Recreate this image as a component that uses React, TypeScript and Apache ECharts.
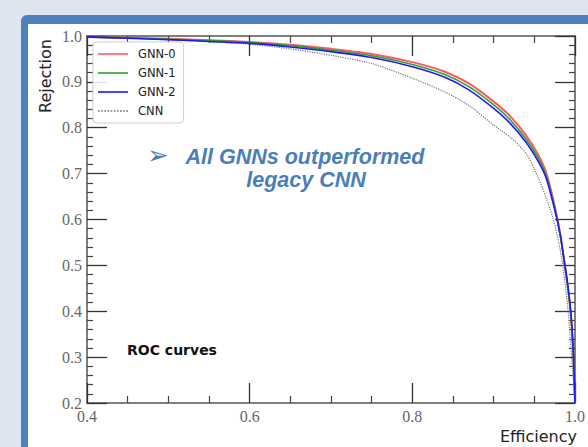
import React, { useEffect, useRef } from "react";
import * as echarts from "echarts";

const X_TICKS = [0.4, 0.6, 0.8, 1.0];
const Y_TICKS = [0.2, 0.3, 0.4, 0.5, 0.6, 0.7, 0.8, 0.9, 1.0];

const GNN_EFF = [0.4, 0.45, 0.5, 0.55, 0.6, 0.65, 0.7, 0.75, 0.8, 0.84, 0.87, 0.9, 0.92, 0.94, 0.955, 0.965, 0.975, 0.982, 0.987, 0.991, 0.995, 0.998, 1.0];
const GNN0_REJ = [0.998, 0.996, 0.994, 0.991, 0.987, 0.981, 0.972, 0.961, 0.943, 0.922, 0.896, 0.857, 0.826, 0.783, 0.74, 0.7, 0.63, 0.568, 0.505, 0.455, 0.39, 0.3, 0.2];
const GNN1_REJ = [0.998, 0.996, 0.993, 0.99, 0.986, 0.979, 0.969, 0.957, 0.938, 0.916, 0.889, 0.85, 0.818, 0.775, 0.733, 0.693, 0.625, 0.565, 0.505, 0.455, 0.39, 0.3, 0.2];
const GNN2_REJ = [0.998, 0.995, 0.992, 0.988, 0.984, 0.976, 0.966, 0.953, 0.933, 0.91, 0.882, 0.842, 0.81, 0.768, 0.726, 0.688, 0.622, 0.565, 0.508, 0.46, 0.395, 0.31, 0.2];

const CNN_EFF = [0.4, 0.45, 0.5, 0.55, 0.6, 0.65, 0.7, 0.75, 0.8, 0.84, 0.87, 0.9, 0.92, 0.94, 0.955, 0.965, 0.9725, 0.98, 0.985, 0.991, 0.995, 0.998, 1.0];
const CNN_REJ = [0.998, 0.996, 0.992, 0.988, 0.982, 0.972, 0.958, 0.94, 0.908, 0.878, 0.848, 0.806, 0.78, 0.744, 0.69, 0.645, 0.606, 0.55, 0.5, 0.41, 0.32, 0.25, 0.2];

const SERIES_NAMES = ["GNN-0", "GNN-1", "GNN-2", "CNN"];
const ANNOT_LINES = ["All GNNs outperformed", "legacy CNN"];

const zip = (xs: number[], ys: number[]) => xs.map((x, i) => [x, ys[i]]);

const SOLID_ICON = "path://M0,0h30v1.6h-30z";
const DOTTED_ICON =
  "path://" +
  Array.from({ length: 10 }, (_, i) => `M${i * 3},0h1.6v1.3h-1.6z`).join("");

export default function App() {
  const ref = useRef<HTMLDivElement>(null);
  useEffect(() => {
    if (!ref.current) return;
    const chart = echarts.init(ref.current, undefined, { renderer: "svg" });
    const serif = "'Liberation Serif', 'DejaVu Serif', serif";
    const sans = "'DejaVu Sans', sans-serif";
    const slideFont = "'Liberation Sans', Arial, sans-serif";
    const axisCommon = {
      type: "value" as const,
      splitLine: { show: false },
      minorSplitLine: { show: false },
      axisLine: { show: true, lineStyle: { color: "#555", width: 1.5 } },
      axisTick: { show: true, inside: true, length: 20, lineStyle: { color: "#333", width: 1.3 } },
    };
    const xBase = {
      ...axisCommon,
      min: X_TICKS[0],
      max: X_TICKS[X_TICKS.length - 1],
      interval: 0.2,
      minorTick: { show: true, splitNumber: 4, length: 7, lineStyle: { color: "#444", width: 1.2 } },
    };
    const yBase = {
      ...axisCommon,
      min: Y_TICKS[0],
      max: Y_TICKS[Y_TICKS.length - 1],
      interval: 0.1,
      minorTick: { show: true, splitNumber: 5, length: 6, lineStyle: { color: "#444", width: 1.2 } },
    };
    const labelStyle = {
      fontFamily: serif,
      fontSize: 16,
      color: "#666",
      showMinLabel: true,
      showMaxLabel: true,
      formatter: (v: number) => v.toFixed(1),
    };
    const lineSeries = (name: string, xs: number[], ys: number[], color: string, width: number, type: string, z: number) => ({
      name,
      type: "line",
      data: zip(xs, ys),
      showSymbol: false,
      symbol: "none",
      smooth: 0.25,
      z,
      lineStyle: { color, width, type },
      itemStyle: { color },
    });
    chart.setOption({
      animation: false,
      graphic: [
        { type: "rect", z: -100, shape: { x: 0, y: 0, width: 588, height: 447 }, style: { fill: "#dce5f0" } },
        { type: "rect", z: -99, shape: { x: 21, y: 15, width: 700, height: 600, r: 6 }, style: { fill: "#4f81bd" } },
        { type: "rect", z: -98, shape: { x: 28, y: 24, width: 700, height: 600 }, style: { fill: "#ffffff" } },
        {
          type: "text", z: 10, x: 45, y: 76, rotation: Math.PI / 2,
          style: { text: "Rejection", fontFamily: sans, fontSize: 16, fill: "#222", align: "center", verticalAlign: "middle" },
        },
        {
          type: "text", z: 10, x: 577, y: 436,
          style: { text: "Efficiency", fontFamily: sans, fontSize: 16, fill: "#222", align: "right", verticalAlign: "middle" },
        },
        {
          type: "text", z: 10, x: 127, y: 350,
          style: { text: "ROC curves", fontFamily: sans, fontWeight: "bold", fontSize: 14, fill: "#111", align: "left", verticalAlign: "middle" },
        },
        {
          type: "text", z: 10, x: 158, y: 155,
          style: { text: "➢", fontFamily: sans, fontSize: 26, fill: "#4a7ebb", align: "center", verticalAlign: "middle" },
        },
        {
          type: "text", z: 10, x: 305, y: 157,
          style: { text: ANNOT_LINES[0], fontFamily: slideFont, fontWeight: "bold", fontStyle: "italic", fontSize: 21.5, fill: "#4a7ebb", align: "center", verticalAlign: "middle" },
        },
        {
          type: "text", z: 10, x: 306, y: 180,
          style: { text: ANNOT_LINES[1], fontFamily: slideFont, fontWeight: "bold", fontStyle: "italic", fontSize: 21.5, fill: "#4a7ebb", align: "center", verticalAlign: "middle" },
        },
      ],
      grid: { left: 87, top: 36, width: 492, height: 367, containLabel: false },
      legend: {
        data: [
          { name: SERIES_NAMES[0], icon: SOLID_ICON },
          { name: SERIES_NAMES[1], icon: SOLID_ICON },
          { name: SERIES_NAMES[2], icon: SOLID_ICON },
          { name: SERIES_NAMES[3], icon: DOTTED_ICON },
        ],
        orient: "vertical",
        left: 93,
        top: 42,
        itemWidth: 30,
        itemHeight: 12,
        itemGap: 7,
        symbolKeepAspect: true,
        itemStyle: { borderWidth: 0 },
        padding: [6, 8, 6, 5],
        backgroundColor: "rgba(255,255,255,0.85)",
        borderColor: "#d0d0d0",
        borderWidth: 1,
        borderRadius: 4,
        textStyle: { fontFamily: sans, fontSize: 11.5, color: "#222", padding: [0, 0, 0, 5] },
        z: 20,
      },
      xAxis: [
        { ...xBase, position: "bottom", axisLabel: { ...labelStyle, margin: 5 } },
        { ...xBase, position: "top", axisLabel: { show: false } },
      ],
      yAxis: [
        { ...yBase, position: "left", axisLabel: { ...labelStyle, margin: 5 } },
        { ...yBase, position: "right", axisLabel: { show: false } },
      ],
      series: [
        lineSeries(SERIES_NAMES[0], GNN_EFF, GNN0_REJ, "rgba(255,60,60,0.85)", 2, "solid", 3),
        lineSeries(SERIES_NAMES[1], GNN_EFF, GNN1_REJ, "#2ca02c", 1.6, "solid", 4),
        lineSeries(SERIES_NAMES[2], GNN_EFF, GNN2_REJ, "#1a1aff", 1.6, "solid", 5),
        lineSeries(SERIES_NAMES[3], CNN_EFF, CNN_REJ, "#777777", 1.2, "dotted", 2),
      ],
    });
    return () => chart.dispose();
  }, []);
  return (
    <div
      ref={ref}
      style={{ position: "absolute", left: 0, top: 0, width: 588, height: 447 }}
    />
  );
}
